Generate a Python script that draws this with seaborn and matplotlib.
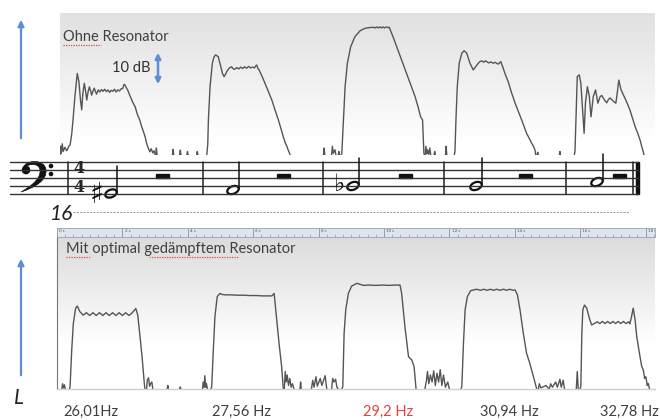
import numpy as np
import pandas as pd
import matplotlib
matplotlib.use('Agg')
import matplotlib.pyplot as plt
import seaborn as sns
from matplotlib.patches import Ellipse, Rectangle, PathPatch, Circle, FancyArrowPatch
from matplotlib.path import Path

sns.set_theme(style='white')
plt.rcParams['font.family'] = ['Lato', 'DejaVu Sans']

# ---- Pegelverläufe (Zeit in s, Pegel in dB über Grundlinie) ----
# Ohne Resonator
top_pulse1 = [(0.09, 0.0), (0.11, 2.5), (0.13, 0.5), (0.16, 3.2), (0.19, 1.0), (0.24, 2.2), (0.30, 1.2),
              (0.36, 2.5), (0.40, 2.8), (0.45, 6.0), (0.49, 10.0), (0.55, 17.0), (0.62, 23.3), (0.67, 21.0),
              (0.72, 15.5), (0.755, 12.9), (0.79, 17.5), (0.835, 20.5), (0.87, 18.5), (0.91, 15.7),
              (0.95, 18.0), (0.99, 19.5), (1.03, 18.2), (1.06, 17.1), (1.10, 18.3), (1.14, 19.1),
              (1.18, 18.0), (1.21, 17.4), (1.26, 18.6), (1.31, 18.0), (1.36, 18.7), (1.41, 18.2),
              (1.46, 18.8), (1.51, 18.1), (1.56, 18.6), (1.61, 17.9), (1.66, 18.5), (1.71, 18.2),
              (1.76, 18.8), (1.81, 18.0), (1.86, 18.6), (1.91, 18.3), (1.96, 18.9), (2.01, 19.0),
              (2.05, 20.2), (2.08, 20.0), (2.12, 19.2), (2.16, 18.6), (2.25, 16.5), (2.33, 14.8),
              (2.39, 13.8), (2.46, 11.5), (2.53, 10.0), (2.59, 8.1), (2.65, 6.5), (2.70, 5.0),
              (2.74, 3.3), (2.79, 2.0), (2.84, 0.9), (2.88, 1.8), (2.93, 0.6), (2.97, 1.2), (3.0, 0.0)]
top_pulse2 = [(4.58, 0.0), (4.61, 3.0), (4.63, 10.0), (4.68, 19.5), (4.75, 26.2), (4.80, 28.0), (4.85, 28.6),
              (4.93, 28.1), (5.01, 25.2), (5.06, 23.3), (5.11, 22.4), (5.15, 23.0), (5.19, 23.8),
              (5.26, 24.8), (5.34, 25.2), (5.39, 24.6), (5.44, 24.5), (5.50, 25.0), (5.56, 24.6),
              (5.62, 25.1), (5.68, 24.7), (5.74, 25.2), (5.80, 24.8), (5.86, 25.3), (5.92, 24.9),
              (5.98, 25.1), (6.04, 24.9), (6.08, 25.5), (6.11, 25.7), (6.14, 24.8), (6.18, 24.3),
              (6.27, 22.5), (6.36, 20.5), (6.47, 18.0), (6.57, 15.7), (6.67, 12.8), (6.77, 10.0),
              (6.85, 7.5), (6.92, 5.2), (6.98, 3.5), (7.03, 2.5), (7.07, 1.4), (7.10, 0.8), (7.13, 0.0)]
top_pulse3 = [(8.69, 0.0), (8.71, 0.5), (8.76, 10.0), (8.81, 19.5), (8.88, 26.2), (8.98, 30.9), (9.11, 33.8),
              (9.27, 35.5), (9.37, 36.0), (9.47, 36.3), (9.57, 36.4), (9.67, 36.5), (9.72, 36.3),
              (9.77, 36.6), (9.82, 36.3), (9.87, 36.6), (9.92, 36.3), (9.97, 36.6), (10.02, 36.3),
              (10.07, 36.6), (10.12, 36.4), (10.16, 36.5), (10.28, 33.7), (10.39, 30.9), (10.54, 27.1),
              (10.69, 23.3), (10.82, 20.0), (10.95, 16.7), (11.04, 13.8), (11.12, 10.9), (11.18, 10.0),
              (11.20, 5.0), (11.22, 0.5), (11.24, 0.0)]
top_pulse4 = [(12.15, 0.0), (12.17, 1.0), (12.20, 10.0), (12.24, 19.5), (12.30, 26.2), (12.38, 29.1),
              (12.45, 29.8), (12.53, 29.1), (12.63, 26.2), (12.73, 24.3), (12.84, 25.7), (12.92, 26.6),
              (12.99, 26.9), (13.05, 26.5), (13.10, 26.9), (13.14, 26.7), (13.20, 26.3), (13.27, 26.6),
              (13.34, 26.2), (13.40, 26.5), (13.46, 26.1), (13.50, 26.0), (13.57, 26.7), (13.63, 25.2),
              (13.71, 23.0), (13.80, 20.9), (13.90, 17.8), (14.01, 14.8), (14.11, 12.4), (14.21, 10.0),
              (14.29, 8.0), (14.36, 6.2), (14.44, 4.8), (14.52, 3.3), (14.57, 2.5), (14.62, 1.4),
              (14.64, 0.0)]
top_pulse5 = [(15.82, 0.0), (15.84, 1.0), (15.87, 10.0), (15.91, 22.4), (15.97, 22.9), (16.02, 20.5),
              (16.08, 11.9), (16.12, 6.2), (16.16, 14.8), (16.22, 19.5), (16.28, 16.7), (16.33, 10.9),
              (16.40, 16.7), (16.47, 18.6), (16.54, 14.8), (16.61, 16.7), (16.66, 17.0), (16.71, 16.2),
              (16.76, 15.5), (16.81, 14.9), (16.86, 15.8), (16.91, 16.3), (16.96, 15.9), (17.02, 15.3),
              (17.09, 14.8), (17.13, 17.5), (17.18, 21.4), (17.25, 18.6), (17.37, 16.2), (17.45, 14.5),
              (17.52, 12.9), (17.60, 10.5), (17.68, 8.1), (17.76, 6.2), (17.83, 4.3), (17.88, 2.5),
              (17.93, 0.9), (17.95, 0.0)]
top_noise = [[(3.02, 0.0), (3.04, 2.0), (3.06, 0.0)], [(3.53, 0.0), (3.55, 1.6), (3.57, 0.0)],
             [(3.75, 0.0), (3.77, 1.4), (3.79, 0.0)], [(3.97, 0.0), (3.99, 1.0), (4.01, 0.0)],
             [(4.27, 0.0), (4.29, 1.0), (4.31, 0.0)], [(8.15, 0.0), (8.17, 2.0), (8.19, 0.0)],
             [(8.40, 0.0), (8.42, 2.5), (8.45, 0.5), (8.50, 1.5), (8.53, 0.0)],
             [(8.60, 0.0), (8.62, 1.0), (8.64, 0.0)],
             [(11.26, 0.0), (11.28, 2.5), (11.31, 0.3), (11.33, 1.5), (11.37, 0.2), (11.40, 2.0), (11.43, 0.0)],
             [(11.53, 0.0), (11.55, 1.0), (11.57, 0.0)], [(11.88, 0.0), (11.90, 2.5), (11.92, 0.0)],
             [(14.68, 0.0), (14.70, 0.8), (14.72, 0.0)], [(15.36, 0.0), (15.38, 1.0), (15.40, 0.0)]]

# Mit optimal gedämpftem Resonator
bot_pulse1 = [(0.38, 0.0), (0.40, 0.7), (0.45, 11.1), (0.50, 18.8), (0.57, 23.1), (0.62, 23.7), (0.70, 22.1),
              (0.80, 21.1), (0.90, 21.8), (1.00, 21.0), (1.10, 21.8), (1.20, 21.0), (1.30, 21.8),
              (1.40, 21.0), (1.50, 21.8), (1.60, 21.0), (1.70, 21.8), (1.80, 21.0), (1.90, 21.8),
              (2.00, 21.0), (2.10, 21.8), (2.20, 21.0), (2.28, 21.6), (2.33, 22.1), (2.41, 23.0),
              (2.47, 21.1), (2.54, 14.9), (2.61, 8.3), (2.67, 1.6), (2.69, 0.0)]
bot_pulse2 = [(4.70, 0.0), (4.73, 0.5), (4.78, 11.1), (4.83, 20.7), (4.90, 26.4), (4.98, 27.3), (5.06, 27.0),
              (5.14, 26.9), (5.30, 26.9), (5.50, 26.8), (5.70, 26.8), (5.90, 26.7), (6.10, 26.7),
              (6.30, 26.6), (6.50, 26.6), (6.57, 26.6), (6.64, 27.3), (6.69, 22.6), (6.79, 13.1),
              (6.87, 6.4), (6.92, 0.0)]
bot_pulse3 = [(8.71, 0.0), (8.74, 0.7), (8.78, 15.9), (8.83, 22.6), (8.91, 27.3), (9.01, 29.4), (9.17, 30.2),
              (9.37, 29.6), (9.55, 29.7), (9.75, 29.6), (9.95, 29.7), (10.15, 29.6), (10.35, 29.7),
              (10.49, 29.7), (10.54, 27.3), (10.64, 17.8), (10.75, 9.2), (10.85, 8.3), (10.92, 6.4),
              (10.98, 0.0)]
bot_pulse4 = [(12.35, 0.0), (12.38, 0.7), (12.43, 13.1), (12.48, 22.6), (12.55, 26.4), (12.65, 28.1),
              (12.83, 28.5), (12.95, 28.2), (13.05, 28.5), (13.15, 28.2), (13.25, 28.5), (13.35, 28.2),
              (13.45, 28.5), (13.55, 28.2), (13.65, 28.5), (13.75, 28.2), (13.85, 28.5), (13.95, 28.2),
              (14.01, 28.3), (14.08, 26.9), (14.16, 22.6), (14.26, 15.9), (14.36, 10.2), (14.46, 7.3),
              (14.57, 3.5), (14.67, 0.0)]
bot_pulse5 = [(15.99, 0.0), (16.02, 0.7), (16.05, 15.9), (16.08, 22.6), (16.13, 24.0), (16.20, 23.1),
              (16.28, 20.2), (16.35, 18.3), (16.45, 18.8), (16.52, 19.2), (16.60, 18.7), (16.68, 19.3),
              (16.76, 18.7), (16.84, 19.3), (16.92, 18.7), (17.00, 19.3), (17.08, 18.7), (17.16, 19.3),
              (17.24, 18.7), (17.32, 19.3), (17.40, 18.7), (17.48, 19.2), (17.52, 18.6), (17.57, 20.7),
              (17.62, 23.1), (17.68, 19.7), (17.73, 14.9), (17.83, 9.2), (17.88, 6.5), (17.93, 5.4),
              (17.97, 3.0), (18.01, 3.5), (18.05, 1.0), (18.08, 1.6), (18.12, 0.0)]
bot_noise = [[(0.15, 0.0), (0.17, 1.5), (0.20, 0.3), (0.23, 1.2), (0.25, 0.0)],
             [(2.74, 0.0), (2.76, 2.5), (2.80, 3.2), (2.83, 0.8), (2.86, 1.5), (2.90, 2.0), (2.93, 0.0)],
             [(3.37, 0.0), (3.39, 1.0), (3.41, 0.0)], [(3.75, 0.0), (3.77, 0.6), (3.79, 0.0)],
             [(4.45, 0.0), (4.47, 2.0), (4.50, 0.5), (4.52, 3.8), (4.55, 0.5), (4.57, 1.5), (4.60, 0.0)],
             [(6.95, 0.0), (6.98, 5.0), (7.01, 2.0), (7.04, 4.0), (7.08, 1.0), (7.12, 3.0), (7.16, 0.5),
              (7.20, 1.5), (7.25, 0.0)],
             [(7.43, 0.0), (7.45, 2.0), (7.47, 0.0)],
             [(7.78, 0.0), (7.82, 2.5), (7.86, 0.5), (7.92, 3.5), (7.96, 0.8), (8.05, 3.0), (8.10, 1.0),
              (8.20, 3.8), (8.25, 0.0)],
             [(8.40, 0.0), (8.43, 3.0), (8.47, 2.0), (8.52, 2.8), (8.56, 0.5), (8.60, 0.0)],
             [(11.25, 0.0), (11.30, 2.5), (11.33, 5.0), (11.37, 1.5), (11.42, 4.0), (11.47, 2.0), (11.52, 5.2),
              (11.57, 1.0), (11.62, 4.5), (11.67, 2.0), (11.72, 5.5), (11.77, 1.0), (11.82, 4.0),
              (11.88, 0.5), (11.95, 2.0), (12.0, 0.0)],
             [(14.72, 0.0), (14.75, 1.5), (14.80, 0.3), (14.95, 1.0), (15.05, 0.0), (15.10, 1.5), (15.15, 0.5),
              (15.25, 2.0), (15.30, 0.5), (15.38, 2.8), (15.42, 0.5), (15.48, 2.5), (15.52, 0.0)],
             [(15.88, 0.0), (15.91, 5.0), (15.94, 0.0)]]

frequencies = ['26,01Hz', '27,56 Hz', '29,2 Hz', '30,94 Hz', '32,78 Hz']
freq_colors = ['#404040', '#404040', '#e8413c', '#404040', '#404040']
ruler_marks = list(range(0, 19, 2))

# ---- Layout in Pixeln des 660x420-Bildes ----
SEC_PX = 32.7
DB_PX = 3.5
TRACE = '#555555'
BLUE = '#5b8ed6'


def px_box(x0, y0, x1, y1):
    return [x0 / 660, 1 - y1 / 420, (x1 - x0) / 660, (y1 - y0) / 420]


def to_frame(*segments):
    rows = [(i, t, v) for i, seg in enumerate(segments) for t, v in seg]
    return pd.DataFrame(rows, columns=['seg', 't', 'L'])


def gradient(ax, top_rgb, frac):
    x0, x1 = ax.get_xlim()
    y0, y1 = ax.get_ylim()
    v = np.linspace(0, 1, 200)[:, None]
    w = np.clip((v - frac) / (1 - frac), 0, 1)
    img = np.ones((200, 1, 3)) * (1 - w[..., None]) + np.array(top_rgb)[None, None, :] * w[..., None]
    ax.imshow(img, extent=[x0, x1, y0, y1], origin='lower', aspect='auto', zorder=0,
              interpolation='bilinear')
    ax.set_xlim(x0, x1)
    ax.set_ylim(y0, y1)


fig = plt.figure(figsize=(6.6, 4.2), dpi=100)

# oberes Diagramm
ax_top = fig.add_axes(px_box(60, 13, 655, 155))
ax_top.set_xlim((60 - 57) / SEC_PX, (655 - 57) / SEC_PX)
ax_top.set_ylim(0, (155 - 13) / DB_PX)
gradient(ax_top, (0.88, 0.88, 0.88), 0.1)
df_top = to_frame(top_pulse1, top_pulse2, top_pulse3, top_pulse4, top_pulse5, *top_noise)
sns.lineplot(data=df_top, x='t', y='L', units='seg', estimator=None, sort=False,
             color=TRACE, lw=1.0, legend=False, ax=ax_top)
ax_top.set_axis_off()

# unteres Diagramm
ax_bot = fig.add_axes(px_box(57, 237, 655, 389))
ax_bot.set_xlim(0, (655 - 57) / SEC_PX)
ax_bot.set_ylim(0, (389 - 237) / DB_PX)
gradient(ax_bot, (0.86, 0.86, 0.86), 0.3)
df_bot = to_frame(bot_pulse1, bot_pulse2, bot_pulse3, bot_pulse4, bot_pulse5, *bot_noise)
sns.lineplot(data=df_bot, x='t', y='L', units='seg', estimator=None, sort=False,
             color=TRACE, lw=1.0, legend=False, ax=ax_bot)
ax_bot.set_xticks([])
ax_bot.set_yticks([])
ax_bot.set_xlabel('')
ax_bot.set_ylabel('')
for side in ['top', 'right']:
    ax_bot.spines[side].set_visible(False)
ax_bot.spines['left'].set_color('#777777')
ax_bot.spines['left'].set_linewidth(0.8)
ax_bot.spines['bottom'].set_color('#cfcfcf')
ax_bot.spines['bottom'].set_linewidth(1.0)

# Zeitlineal
ax_r = fig.add_axes(px_box(57, 228, 655, 237))
ax_r.set_xlim(ax_bot.get_xlim())
ax_r.set_ylim(0, 1)
ax_r.set_facecolor('#dde5ee')
ax_r.set_xticks([])
ax_r.set_yticks([])
for sp in ax_r.spines.values():
    sp.set_color('#9aa5b1')
    sp.set_linewidth(0.6)
ax_r.vlines(np.arange(0, 18.3, 0.25), 0, 0.3, color='#7d8894', lw=0.4)
for s in ruler_marks:
    ax_r.axvline(s, color='#8a95a1', lw=0.6)
    ax_r.text(s + 0.07, 0.62, f'{s} s', fontsize=3.2, va='center', color='#555555', clip_on=True)

# Frequenzen unter den Tönen
label_t = [1.04, 5.63, 10.12, 13.82, 17.52]
for t, f, c in zip(label_t, frequencies, freq_colors):
    ax_bot.text(t, -0.151, f, transform=ax_bot.get_xaxis_transform(), ha='center', va='center',
                fontsize=10.5, color=c)

# ---- Overlay: Pfeile, Texte, Notenzeile ----
ov = fig.add_axes([0, 0, 1, 1], zorder=5)
ov.set_xlim(0, 660)
ov.set_ylim(420, 0)
ov.set_axis_off()
ov.patch.set_visible(False)

ov.add_patch(FancyArrowPatch((21, 141), (21, 17), arrowstyle='-|>', mutation_scale=9, color=BLUE, lw=1.6))
ov.add_patch(FancyArrowPatch((21, 378), (21, 256), arrowstyle='-|>', mutation_scale=9, color=BLUE, lw=1.6))
ov.add_patch(FancyArrowPatch((158, 87), (158, 50), arrowstyle='<|-|>', mutation_scale=8, color=BLUE, lw=1.8))

ov.text(63, 37, 'Ohne Resonator', fontsize=10.5, va='center', color='#404040')
ov.text(131, 68, '10 dB', fontsize=10.5, ha='center', va='center', color='#303030')
ov.text(66, 249, 'Mit optimal gedämpftem Resonator', fontsize=10.5, va='center', color='#404040')
for x0, x1, y in [(63, 101, 44.5), (66, 90, 256.5), (149, 238, 256.5)]:
    ov.plot([x0, x1], [y, y], color='#e04848', lw=0.9, ls=(0, (1, 1)))

ov.text(61, 214, '16', fontsize=15, style='italic', ha='center', va='center', color='#222222')
ov.plot([73, 630], [212, 212], color='#888888', lw=0.6, ls=(0, (2.5, 1.5)))
ov.text(19, 398, 'L', fontsize=15, style='italic', ha='center', va='center', color='#222222')

# Notensystem
for y in [162, 170, 178, 186, 194]:
    ov.plot([10, 638], [y, y], color='#333333', lw=1.0)
for x in [68, 203, 323, 444, 566, 633]:
    ov.plot([x, x], [162, 194], color='#222222', lw=1.1)
ov.add_patch(Rectangle((636, 162), 3, 32, color='#111111'))

# Bassschlüssel
clef = Path([(23, 168), (26, 159), (45, 159), (46, 170), (47, 180), (36, 187), (21, 192),
             (33, 185), (41, 178), (40, 170), (39, 163), (30, 163), (23, 168), (23, 168)],
            [Path.MOVETO, Path.CURVE4, Path.CURVE4, Path.CURVE4, Path.CURVE4, Path.CURVE4, Path.CURVE4,
             Path.CURVE4, Path.CURVE4, Path.CURVE4, Path.CURVE4, Path.CURVE4, Path.CURVE4, Path.CLOSEPOLY])
ov.add_patch(PathPatch(clef, color='#111111', lw=0.5))
ov.add_patch(Circle((26, 170), 3.6, color='#111111'))
ov.add_patch(Circle((51, 166), 1.6, color='#111111'))
ov.add_patch(Circle((51, 174), 1.6, color='#111111'))

# Taktart als zwei Ziffern, knapp gesetzt
ov.text(79, 177, '4', fontsize=11.5, fontweight='bold', family='DejaVu Serif', ha='center', va='bottom')
ov.text(79, 179, '4', fontsize=11.5, fontweight='bold', family='DejaVu Serif', ha='center', va='top')

note_x = [111, 233, 353, 476, 597]
note_y = [193.5, 190, 186, 186, 182]
rest_x = [162, 283, 405, 525, 619]
for x, y in zip(note_x, note_y):
    ov.add_patch(Ellipse((x, y), 12, 7.5, angle=-22, fill=False, ec='#111111', lw=1.6))
    ov.plot([x + 5.5, x + 5.5], [y - 1, y - 28], color='#111111', lw=1.1)
for x in rest_x:
    ov.add_patch(Rectangle((x - 6.5, 174), 13, 4, color='#111111'))
ov.text(97, 195, '♯', fontsize=21, family='DejaVu Sans', ha='center', va='center', color='#111111')
ov.text(339, 184, '♭', fontsize=17, family='DejaVu Sans', ha='center', va='center', color='#111111')

fig.savefig('out.png', dpi=100)
